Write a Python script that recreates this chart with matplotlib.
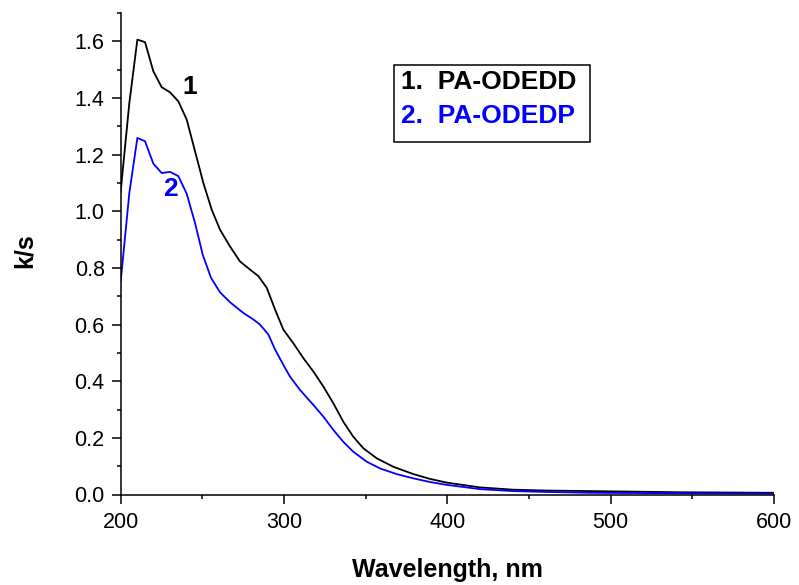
import matplotlib
matplotlib.use("Agg")
import matplotlib.pyplot as plt
from matplotlib.patches import Rectangle
from matplotlib.ticker import MultipleLocator, FormatStrFormatter

plt.rcParams['font.family'] = ['Liberation Sans', 'DejaVu Sans']

# Data
wl_1 = [200, 205.3, 210.2, 214.9, 220, 225.1, 230.2, 235.3, 240.4, 245.5, 250.6,
        255.7, 260.8, 266.9, 273, 279.2, 284.3, 289.4, 294.5, 299.6, 305.7, 311.9,
        318, 324.1, 330.2, 336.3, 342.4, 348.6, 356.7, 366.9, 379.2, 389.4, 399.6,
        420, 440.4, 460, 487.7, 542.2, 600]
k_1 = [1.07, 1.383, 1.606, 1.597, 1.494, 1.438, 1.420, 1.388, 1.324, 1.212, 1.100,
       1.006, 0.935, 0.876, 0.823, 0.794, 0.771, 0.730, 0.653, 0.582, 0.534, 0.481,
       0.434, 0.381, 0.322, 0.257, 0.204, 0.163, 0.128, 0.098, 0.072, 0.055, 0.042,
       0.025, 0.017, 0.014, 0.012, 0.008, 0.006]

wl_2 = [200, 205.3, 210.2, 214.9, 220, 225.1, 230.2, 235.3, 240.4, 245.5, 250.2,
        255.3, 260.8, 266.9, 275.1, 281.2, 285.3, 290.4, 294.5, 300.6, 303.7, 309.8,
        318, 324.1, 330.2, 336.3, 342.4, 350.6, 358.8, 369, 379.2, 389.4, 399.6,
        420, 440.4, 460, 487.7, 600]
k_2 = [0.753, 1.065, 1.259, 1.247, 1.168, 1.135, 1.139, 1.124, 1.062, 0.959, 0.847,
       0.765, 0.714, 0.679, 0.641, 0.618, 0.600, 0.565, 0.512, 0.447, 0.416, 0.369,
       0.316, 0.275, 0.228, 0.186, 0.151, 0.116, 0.092, 0.072, 0.057, 0.044, 0.034,
       0.019, 0.012, 0.009, 0.006, 0.003]

series_names = ["1.  PA-ODEDD", "2.  PA-ODEDP"]
curve_labels = ["1", "2"]
colors = ["black", "#0000ff"]

W, H = 799, 585
fig = plt.figure(figsize=(W / 100, H / 100), dpi=100)
ax = fig.add_axes([120.7 / W, (H - 494.5) / H, 653.3 / W, (494.5 - 13) / H])

ax.plot(wl_1, k_1, color=colors[0], lw=1.3)
ax.plot(wl_2, k_2, color=colors[1], lw=1.3)

ax.set_xlim(200, 600)
ax.set_ylim(0, 1.7)
ax.xaxis.set_major_locator(MultipleLocator(100))
ax.xaxis.set_minor_locator(MultipleLocator(50))
ax.set_yticks([0, 0.2, 0.4, 0.6, 0.8, 1.0, 1.2, 1.4, 1.6])
ax.yaxis.set_minor_locator(MultipleLocator(0.1))
ax.yaxis.set_major_formatter(FormatStrFormatter('%.1f'))

for s in ['top', 'right']:
    ax.spines[s].set_visible(False)
for s in ['left', 'bottom']:
    ax.spines[s].set_linewidth(1.1)

ax.tick_params(which='major', direction='out', length=6.5, width=1.1, labelsize=15.5)
ax.tick_params(which='minor', direction='out', length=3, width=1.1)
ax.tick_params(axis='y', which='major', pad=5)
ax.tick_params(axis='x', which='major', pad=6)

# axis labels
fig.text(447 / W, 1 - 576.7 / H, "Wavelength, nm", ha='center', va='baseline',
         fontsize=18, fontweight='bold')
fig.text(24.5 / W, 1 - 251 / H, "k/s", ha='center', va='center', rotation=90,
         fontsize=18, fontweight='bold')

# legend box
rect = Rectangle((394 / W, 1 - 141.7 / H), (590 - 394) / W, (141.7 - 65) / H,
                 transform=fig.transFigure, fill=False, edgecolor='black', lw=1.1)
fig.patches.append(rect)
fig.text(400.7 / W, 1 - 89.3 / H, series_names[0], ha='left', va='baseline',
         fontsize=19, fontweight='bold', color=colors[0])
fig.text(400.7 / W, 1 - 123.3 / H, series_names[1], ha='left', va='baseline',
         fontsize=19, fontweight='bold', color=colors[1])

# curve labels
fig.text(190 / W, 1 - 94 / H, curve_labels[0], ha='center', va='baseline',
         fontsize=19, fontweight='bold', color=colors[0])
fig.text(170.7 / W, 1 - 196 / H, curve_labels[1], ha='center', va='baseline',
         fontsize=19, fontweight='bold', color=colors[1])

fig.savefig("out.png", dpi=100)
